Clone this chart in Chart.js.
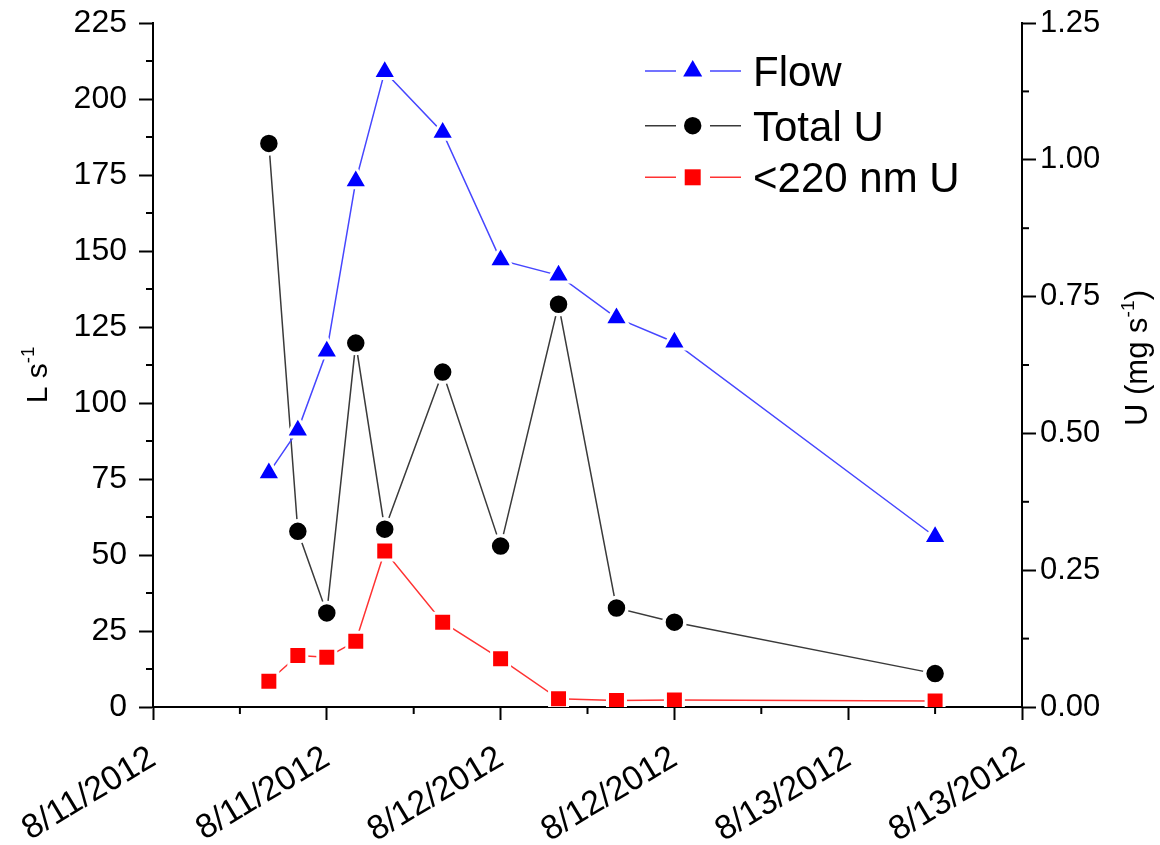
<!DOCTYPE html>
<html>
<head>
<meta charset="utf-8">
<script src="https://cdn.jsdelivr.net/npm/chart.js@4.4.0/dist/chart.umd.min.js"></script>
<style>
html, body { margin: 0; padding: 0; background: #fff; }
#wrap { width: 1160px; height: 845px; }
</style>
</head>
<body>
<div id="wrap"><canvas id="chart"></canvas></div>
<script>
// hours after 8/11/2012 00:00
const hours = [8, 10, 12, 14, 16, 20, 24, 28, 32, 36, 54];
const flow = [77, 91, 117, 173, 209, 189, 147, 142, 128, 120, 56];            // L s-1
const totalU = [1.03, 0.321, 0.172, 0.665, 0.325, 0.612, 0.294, 0.736, 0.181, 0.155, 0.061]; // mg s-1
const smallU = [0.047, 0.094, 0.091, 0.12, 0.285, 0.155, 0.088, 0.015, 0.012, 0.013, 0.011]; // mg s-1
const xTickLabels = ['8/11/2012', '8/11/2012', '8/12/2012', '8/12/2012', '8/13/2012', '8/13/2012'];

const FONT = "'Liberation Sans', Arial, sans-serif";
const pts = (ys) => hours.map((h, i) => ({ x: h, y: ys[i] }));

// minor ticks half way between the labelled ones
const minorTicks = {
  id: 'minorTicks',
  afterDraw(chart) {
    const ctx = chart.ctx;
    ctx.save();
    ctx.strokeStyle = '#000';
    ctx.lineWidth = 2;
    const draw = (scale, step, len) => {
      for (let v = scale.min + step / 2; v < scale.max; v += step) {
        const p = scale.getPixelForValue(v);
        ctx.beginPath();
        if (scale.axis === 'x') {
          ctx.moveTo(p, scale.top); ctx.lineTo(p, scale.top + len);
        } else if (scale.position === 'left') {
          ctx.moveTo(scale.right, p); ctx.lineTo(scale.right - len, p);
        } else {
          ctx.moveTo(scale.left, p); ctx.lineTo(scale.left + len, p);
        }
        ctx.stroke();
      }
    };
    draw(chart.scales.x, 12, 7);
    draw(chart.scales.yL, 25, 7);
    draw(chart.scales.yR, 0.25, 7);
    ctx.restore();
  }
};

// axis titles with superscripts, rotated
function drawTitle(ctx, x, y, parts, size) {
  ctx.save();
  ctx.translate(x, y);
  ctx.rotate(-Math.PI / 2);
  ctx.fillStyle = '#000';
  ctx.textBaseline = 'alphabetic';
  ctx.textAlign = 'left';
  let total = 0;
  const widths = parts.map(([t, sup]) => {
    ctx.font = (sup ? size * 0.62 : size) + 'px ' + FONT;
    const w = ctx.measureText(t).width;
    total += w;
    return w;
  });
  let cx = -total / 2;
  const base = size * 0.36;
  parts.forEach(([t, sup], i) => {
    ctx.font = (sup ? size * 0.62 : size) + 'px ' + FONT;
    ctx.fillText(t, cx, sup ? base - size * 0.42 : base);
    cx += widths[i];
  });
  ctx.restore();
}

const titles = {
  id: 'titles',
  afterDraw(chart) {
    const ctx = chart.ctx;
    drawTitle(ctx, 36, 375, [['L s', false], ['-1', true]], 30);
    drawTitle(ctx, 1136, 358, [['U (mg s', false], ['-1', true], [')', false]], 31);
  }
};

// legend: line - marker - line, then label
const legendBox = {
  id: 'legendBox',
  afterDraw(chart) {
    const ctx = chart.ctx;
    const rows = [71, 125.7, 177.3];
    const radii = [11, 8.7, 11.3];
    ctx.save();
    chart.data.datasets.forEach((ds, i) => {
      const y = rows[i];
      ctx.strokeStyle = ds.borderColor;
      ctx.lineWidth = 1.5;
      ctx.beginPath();
      ctx.moveTo(645, y); ctx.lineTo(676, y);
      ctx.moveTo(710, y); ctx.lineTo(741, y);
      ctx.stroke();
      ctx.fillStyle = ds.pointBackgroundColor;
      Chart.helpers.drawPoint(ctx, { pointStyle: ds.pointStyle, radius: radii[i], borderWidth: 0, rotation: 0 }, 692.7, y);
      ctx.fillStyle = '#000';
      ctx.font = '42px ' + FONT;
      ctx.textAlign = 'left';
      ctx.textBaseline = 'alphabetic';
      ctx.fillText(ds.label, 753, y + 42 * 0.358);
    });
    ctx.restore();
  }
};

const axisStyle = {
  border: { display: true, color: '#000', width: 2 },
  grid: { display: true, drawOnChartArea: false, drawTicks: true, tickLength: 14, tickColor: '#000', tickWidth: 2 }
};

// fixed box sizes, no extra label overflow padding
const fixBox = (w, h) => (s) => {
  if (w) s.width = w;
  if (h) s.height = h;
  s.paddingTop = 0; s.paddingBottom = 0; s.paddingLeft = 0; s.paddingRight = 0;
};

new Chart(document.getElementById('chart'), {
  type: 'line',
  data: {
    datasets: [
      {
        label: 'Flow',
        data: pts(flow),
        yAxisID: 'yL',
        borderColor: 'rgb(70,70,255)',
        borderWidth: 1.5,
        pointStyle: 'triangle',
        pointRadius: 13.5,
        pointBackgroundColor: '#0000ff',
        pointBorderColor: '#ffffff',
        pointBorderWidth: 3
      },
      {
        label: 'Total U',
        data: pts(totalU),
        yAxisID: 'yR',
        borderColor: '#3a3a3a',
        borderWidth: 1.5,
        pointStyle: 'circle',
        pointRadius: 10.5,
        pointBackgroundColor: '#000000',
        pointBorderColor: '#ffffff',
        pointBorderWidth: 3.5
      },
      {
        label: '<220 nm U',
        data: pts(smallU),
        yAxisID: 'yR',
        borderColor: 'rgb(255,50,50)',
        borderWidth: 1.5,
        pointStyle: 'rect',
        pointRadius: 12.7,
        pointBackgroundColor: '#ff0000',
        pointBorderColor: '#ffffff',
        pointBorderWidth: 3
      }
    ]
  },
  options: {
    responsive: true,
    maintainAspectRatio: false,
    animation: false,
    events: [],
    layout: { autoPadding: false, padding: { top: 23, left: 0, right: 0, bottom: 0 } },
    plugins: { legend: { display: false }, tooltip: { enabled: false } },
    scales: {
      x: {
        type: 'linear',
        min: 0,
        max: 60,
        ...axisStyle,
        grid: { ...axisStyle.grid, tickLength: 13 },
        ticks: {
          stepSize: 12,
          autoSkip: false,
          minRotation: 31,
          maxRotation: 31,
          padding: 18,
          color: '#000',
          font: { family: FONT, size: 34 },
          callback: (v) => xTickLabels[Math.round(v / 12)]
        },
        afterFit: fixBox(0, 138)
      },
      yL: {
        type: 'linear',
        position: 'left',
        min: 0,
        max: 225,
        ...axisStyle,
        ticks: {
          stepSize: 25,
          padding: 12,
          color: '#000',
          font: { family: FONT, size: 32 }
        },
        afterFit: fixBox(153, 0)
      },
      yR: {
        type: 'linear',
        position: 'right',
        min: 0,
        max: 1.25,
        ...axisStyle,
        ticks: {
          stepSize: 0.25,
          padding: 4,
          color: '#000',
          font: { family: FONT, size: 31 },
          callback: (v) => v.toFixed(2)
        },
        afterFit: fixBox(138, 0)
      }
    }
  },
  plugins: [minorTicks, titles, legendBox]
});
</script>
</body>
</html>
